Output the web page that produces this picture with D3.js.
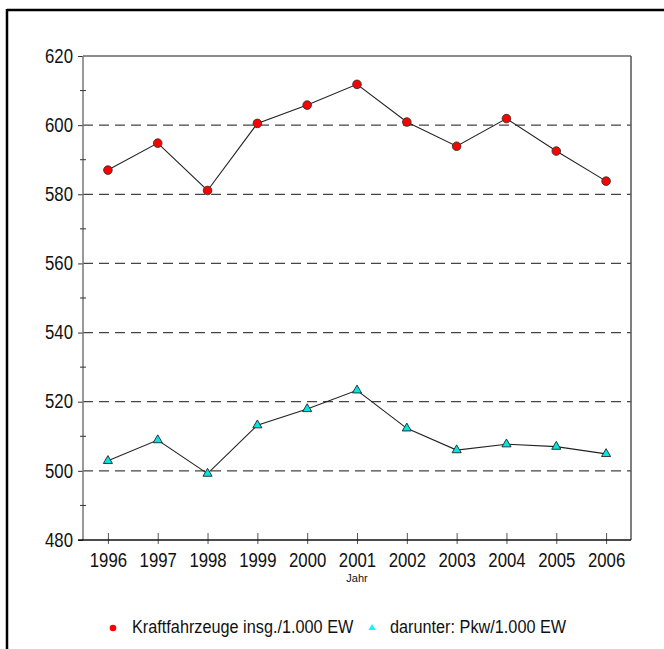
<!DOCTYPE html>
<html>
<head>
<meta charset="utf-8">
<script src="https://cdnjs.cloudflare.com/ajax/libs/d3/7.8.5/d3.min.js"></script>
<style>
  body { margin: 0; background: #fff; }
  svg { display: block; }
  text { font-family: "Liberation Sans Narrow", "Arial Narrow", "Liberation Sans", sans-serif; fill: #111; }
</style>
</head>
<body>
<svg id="chart" width="664" height="649"></svg>
<script>
// chart data
var years = ["1996", "1997", "1998", "1999", "2000", "2001", "2002", "2003", "2004", "2005", "2006"];
var kfzValues = [587.0, 594.8, 581.1, 600.5, 605.8, 611.8, 600.9, 593.9, 601.9, 592.5, 583.8];
var pkwValues = [502.9, 508.9, 499.2, 513.2, 517.9, 523.3, 512.3, 506.0, 507.7, 507.0, 504.9];
var yTicks = [480, 500, 520, 540, 560, 580, 600, 620];
var yMinorTicks = [490, 510, 530, 550, 570, 590, 610];
var gridValues = [500, 520, 540, 560, 580, 600];
var legendLabels = ["Kraftfahrzeuge insg./1.000 EW", "darunter: Pkw/1.000 EW"];
var xTitle = "Jahr";

var svg = d3.select("#chart");

var plotL = 83, plotR = 631, plotT = 56, plotB = 540;
var squeeze = 0.86; // narrow font look

// outer frame (only top and left visible)
svg.append("line").attr("x1", 7).attr("x2", 664).attr("y1", 10).attr("y2", 10)
    .style("stroke", "#000").style("stroke-width", 2.5);
svg.append("line").attr("x1", 7).attr("x2", 7).attr("y1", 9).attr("y2", 649)
    .style("stroke", "#000").style("stroke-width", 2.5);

var x = d3.scalePoint().domain(years).range([plotL, plotR]).padding(0.5);
var y = d3.scaleLinear().domain([480, 620]).range([plotB, plotT]);

// dashed grid
svg.append("g").selectAll("line").data(gridValues).enter().append("line")
    .attr("x1", plotL).attr("x2", plotR)
    .attr("y1", function (d) { return y(d); })
    .attr("y2", function (d) { return y(d); })
    .style("stroke", "#444")
    .style("stroke-width", 1.2)
    .style("stroke-dasharray", "10,6");

// frame top + right
svg.append("line").attr("x1", plotL).attr("x2", plotR).attr("y1", plotT).attr("y2", plotT)
    .style("stroke", "#666").style("stroke-width", 1.5);
svg.append("line").attr("x1", plotR).attr("x2", plotR).attr("y1", plotT).attr("y2", plotB)
    .style("stroke", "#555").style("stroke-width", 1.5);

// y axis
var yAxis = d3.axisLeft(y).tickValues(yTicks).tickSize(5).tickPadding(4);
var gy = svg.append("g").attr("transform", "translate(" + plotL + ",0)").call(yAxis);
gy.select(".domain").remove();
gy.selectAll(".tick line").style("stroke", "#333");
gy.selectAll(".tick text")
    .attr("x", -10 / squeeze)
    .attr("transform", "scale(" + squeeze + ",1)")
    .style("font-size", "19.5px").style("fill", "#111");
svg.append("line").attr("x1", plotL).attr("x2", plotL).attr("y1", plotT).attr("y2", plotB)
    .style("stroke", "#777").style("stroke-width", 1.5);
svg.append("g").selectAll("line").data(yMinorTicks).enter().append("line")
    .attr("x1", plotL - 3).attr("x2", plotL + 3)
    .attr("y1", function (d) { return y(d); })
    .attr("y2", function (d) { return y(d); })
    .style("stroke", "#333");

// x axis
var xAxis = d3.axisBottom(x).tickSize(0).tickPadding(13);
var gx = svg.append("g").attr("transform", "translate(0," + plotB + ")").call(xAxis);
gx.select(".domain").remove();
gx.selectAll(".tick text")
    .attr("transform", "scale(" + squeeze + ",1)")
    .style("font-size", "19.5px").style("fill", "#111");
gx.selectAll(".tick").append("line")
    .attr("y1", -7).attr("y2", 4)
    .style("stroke", "#555");
svg.append("line").attr("x1", plotL - 5).attr("x2", plotR).attr("y1", plotB).attr("y2", plotB)
    .style("stroke", "#111").style("stroke-width", 1.5);

svg.append("text").attr("x", (plotL + plotR) / 2).attr("y", 582)
    .attr("text-anchor", "middle").style("font-size", "11px").text(xTitle);

// lines
var line = d3.line()
    .x(function (d, i) { return x(years[i]); })
    .y(function (d) { return y(d); });

svg.append("path").datum(kfzValues).attr("d", line)
    .style("fill", "none").style("stroke", "#222").style("stroke-width", 1.1);
svg.append("path").datum(pkwValues).attr("d", line)
    .style("fill", "none").style("stroke", "#222").style("stroke-width", 1.1);

// markers
svg.append("g").selectAll("circle").data(kfzValues).enter().append("circle")
    .attr("cx", function (d, i) { return x(years[i]); })
    .attr("cy", function (d) { return y(d); })
    .attr("r", 4.3)
    .style("fill", "#ff0000")
    .style("stroke", "#333")
    .style("stroke-width", 0.9);

var tri = d3.symbol().type(d3.symbolTriangle).size(36);
svg.append("g").selectAll("path").data(pkwValues).enter().append("path")
    .attr("transform", function (d, i) { return "translate(" + x(years[i]) + "," + y(d) + ")"; })
    .attr("d", tri)
    .style("fill", "#00e5e5")
    .style("stroke", "#222")
    .style("stroke-width", 0.9);

// legend
var legY = 633;
svg.append("circle").attr("cx", 113).attr("cy", legY - 5).attr("r", 3.3).style("fill", "#ff0000");
svg.append("g").attr("transform", "translate(132," + legY + ") scale(0.93,1)")
    .append("text").style("font-size", "17.5px").text(legendLabels[0]);
svg.append("path").attr("transform", "translate(372," + (legY - 5) + ")")
    .attr("d", d3.symbol().type(d3.symbolTriangle).size(22)).style("fill", "#00ffff");
svg.append("g").attr("transform", "translate(390," + legY + ") scale(0.93,1)")
    .append("text").style("font-size", "17.5px").text(legendLabels[1]);
</script>
</body>
</html>
